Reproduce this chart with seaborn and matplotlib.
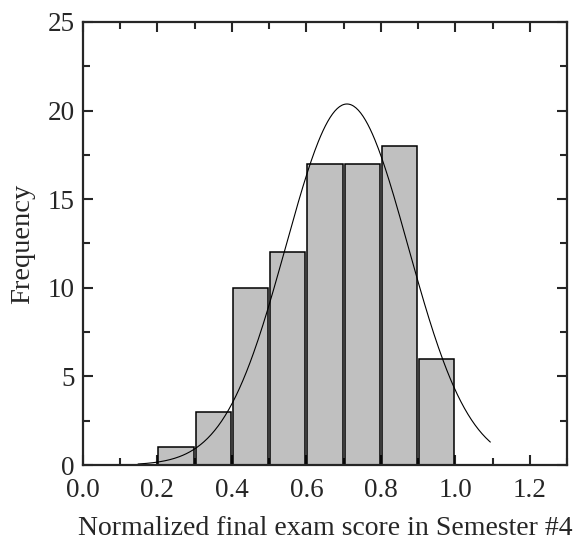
import numpy as np
import matplotlib.pyplot as plt
import seaborn as sns
from matplotlib.ticker import MultipleLocator

# histogram data: left edges of 0.1-wide bins and their counts
bin_lefts = [0.2, 0.3, 0.4, 0.5, 0.6, 0.7, 0.8, 0.9]
counts = [1, 3, 10, 12, 17, 17, 18, 6]

# normal fit drawn over the bars
fit_mu = 0.709
fit_sigma = 0.164
fit_peak = 20.37
fit_range = (0.148, 1.094)

sns.set_style("ticks")
plt.rcParams['font.family'] = ['Liberation Serif', 'DejaVu Serif']

fig = plt.figure(figsize=(5.84, 5.43), dpi=100)
ax = fig.add_axes([0.142, 0.1436, 0.829, 0.816])

centers = np.array(bin_lefts) + 0.05
sns.histplot(x=centers, weights=counts, binwidth=0.1, binrange=(0.2, 1.0),
             shrink=0.95, color="#c0c0c0", alpha=1, edgecolor="black",
             linewidth=1.1, ax=ax)

xs = np.linspace(fit_range[0], fit_range[1], 300)
ys = fit_peak * np.exp(-0.5 * ((xs - fit_mu) / fit_sigma) ** 2)
sns.lineplot(x=xs, y=ys, color="black", linewidth=0.8, ax=ax)

ax.set_xlim(0, 1.3)
ax.set_ylim(0, 25)
ax.xaxis.set_major_locator(MultipleLocator(0.2))
ax.xaxis.set_minor_locator(MultipleLocator(0.1))
ax.yaxis.set_major_locator(MultipleLocator(5))
ax.yaxis.set_minor_locator(MultipleLocator(2.5))
ax.xaxis.set_major_formatter(lambda v, p: f"{v:.1f}")

ax.tick_params(which='both', direction='in', top=True, right=True,
               labelsize=19.5, width=1.5)
ax.tick_params(axis='x', which='major', pad=9)
ax.tick_params(axis='y', which='major', pad=6)
ax.tick_params(which='major', length=7.5)
ax.tick_params(which='minor', length=5)
for s in ax.spines.values():
    s.set_linewidth(1.6)

ax.set_xlabel("Normalized final exam score in Semester #4", fontsize=20, labelpad=10)
ax.set_ylabel("Frequency", fontsize=20.5, labelpad=9)

fig.savefig("out.png", dpi=100)
